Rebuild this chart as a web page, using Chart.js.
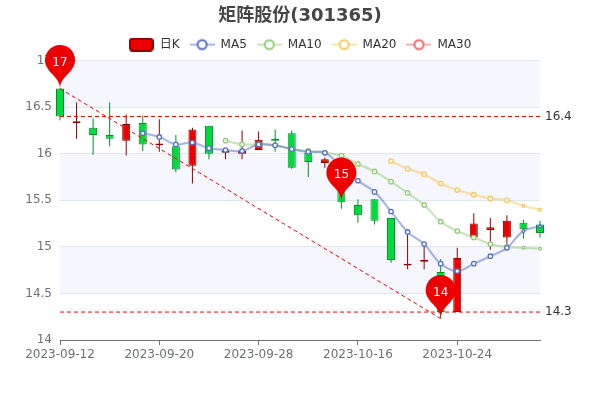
<!DOCTYPE html>
<html>
<head>
<meta charset="utf-8">
<title>矩阵股份(301365)</title>
<script src="https://cdn.jsdelivr.net/npm/chart.js@4/dist/chart.umd.min.js"></script>
<style>
  html, body { margin: 0; padding: 0; background: #fff; }
  canvas { display: block; }
</style>
</head>
<body>
<canvas id="kline" width="600" height="400"></canvas>
<script>
const dates = ['2023-09-12', '2023-09-13', '2023-09-14', '2023-09-15', '2023-09-18', '2023-09-19', '2023-09-20', '2023-09-21', '2023-09-22', '2023-09-25',
  '2023-09-26', '2023-09-27', '2023-09-28', '2023-10-09', '2023-10-10', '2023-10-11', '2023-10-12', '2023-10-13', '2023-10-16', '2023-10-17',
  '2023-10-18', '2023-10-19', '2023-10-20', '2023-10-23', '2023-10-24', '2023-10-25', '2023-10-26', '2023-10-27', '2023-10-30', '2023-10-31']

const opens = [16.7, 16.33, 16.28, 16.2, 16.14, 16.33, 16.09, 16.08, 15.87, 16.3,
  16.01, 16.0, 16.04, 16.16, 16.22, 16.01, 15.9, 15.72, 15.45, 15.51,
  15.31, 14.8, 14.84, 14.73, 14.3, 15.1, 15.18, 15.1, 15.26, 15.24]
const closes = [16.4, 16.35, 16.2, 16.16, 16.32, 16.1, 16.11, 15.83, 16.26, 16.0,
  16.03, 16.03, 16.15, 16.14, 15.85, 15.91, 15.94, 15.48, 15.34, 15.28,
  14.86, 14.82, 14.86, 14.3, 14.88, 15.25, 15.21, 15.28, 15.19, 15.15]
const lows = [16.36, 16.16, 15.99, 16.08, 15.98, 16.03, 16.02, 15.8, 15.68, 15.94,
  15.94, 15.94, 16.04, 16.02, 15.84, 15.75, 15.85, 15.41, 15.26, 15.24,
  14.83, 14.76, 14.76, 14.23, 14.3, 15.1, 14.97, 15.0, 15.09, 15.1]
const highs = [16.7, 16.55, 16.38, 16.55, 16.42, 16.41, 16.37, 16.2, 16.28, 16.3,
  16.06, 16.25, 16.24, 16.26, 16.25, 16.02, 15.96, 15.76, 15.51, 15.51,
  15.31, 15.15, 15.04, 14.87, 14.99, 15.36, 15.31, 15.34, 15.29, 15.28]

const ma5 = [null, null, null, null, null, 16.22, 16.18, 16.1, 16.12, 16.06,
  16.04, 16.03, 16.1, 16.09, 16.05, 16.02, 16.01, 15.86, 15.71, 15.59,
  15.38, 15.16, 15.03, 14.82, 14.74, 14.82, 14.9, 14.99, 15.17, 15.22]
const ma10 = [null, null, null, null, null, null, null, null, null, null,
  16.14, 16.1, 16.1, 16.09, 16.05, 16.03, 16.01, 15.98, 15.89, 15.81,
  15.7, 15.58, 15.45, 15.27, 15.17, 15.1, 15.03, 15.0, 14.99, 14.98]
const ma20 = [null, null, null, null, null, null, null, null, null, null,
  null, null, null, null, null, null, null, null, null, null,
  15.92, 15.84, 15.78, 15.68, 15.61, 15.56, 15.52, 15.5, 15.44, 15.4]

// pins and mark lines
const pinIndex = [0, 17, 23]
const pinValue = [16.7, 15.49, 14.23]
const pinText = ['17', '15', '14']
const markLevels = [16.4, 14.3]

const legendNames = ['日K', 'MA5', 'MA10', 'MA20', 'MA30']

const UP = '#ec0000'
const UP_BORDER = '#8a0000'
const DOWN = '#00da3c'
const DOWN_BORDER = '#008f28'
const LINE_COLORS = ['#5470c6', '#91cc75', '#fac858', '#ee6666']
const FONT = '"DejaVu Sans", "Noto Sans CJK SC", sans-serif'

const isUp = (i) => closes[i] >= opens[i]

function iconCanvas(draw) {
  const c = document.createElement('canvas')
  c.width = 25
  c.height = 14
  draw(c.getContext('2d'))
  return c
}

const kIcon = iconCanvas((g) => {
  g.fillStyle = UP
  g.strokeStyle = UP_BORDER
  g.lineWidth = 2
  g.beginPath()
  g.roundRect(1, 1, 23, 12, 3)
  g.fill()
  g.stroke()
})

const lineIcon = (color) => iconCanvas((g) => {
  g.strokeStyle = color
  g.globalAlpha = 0.5
  g.lineWidth = 2
  g.beginPath()
  g.moveTo(0, 7)
  g.lineTo(25, 7)
  g.stroke()
  g.globalAlpha = 1
  g.fillStyle = '#fff'
  g.lineWidth = 2
  g.beginPath()
  g.arc(12.5, 7, 4.5, 0, Math.PI * 2)
  g.fill()
  g.stroke()
})

const legendIcons = [kIcon].concat(LINE_COLORS.map(lineIcon))

function maDataset(label, values, color) {
  return {
    type: 'line',
    label: label,
    data: values,
    borderColor: color + '80',
    borderWidth: 2.2,
    tension: 0.4,
    pointBackgroundColor: '#fff',
    pointBorderColor: color,
    pointBorderWidth: 1.3,
    pointRadius: values.map((v, i) => (i >= values.length - 2 ? 1.4 : 2.2)),
    clip: false,
    order: 3
  }
}

function markDataset(values) {
  return {
    type: 'line',
    data: values,
    borderColor: '#f00000',
    borderWidth: 1,
    borderDash: [4, 3],
    pointRadius: 0,
    spanGaps: true,
    tension: 0,
    order: 2
  }
}

const levelLine = (v) => dates.map((d, i) => (i === 0 || i === dates.length - 1 ? v : null))
const trendLine = dates.map((d, i) => {
  if (i === pinIndex[0]) return pinValue[0]
  if (i === pinIndex[2]) return pinValue[2]
  return null
})

const bandsPlugin = {
  id: 'bands',
  beforeDraw(chart) {
    const { ctx, chartArea, scales } = chart
    ctx.save()
    ctx.fillStyle = '#f5f7fd'
    for (const [a, b] of [[17, 16.5], [16, 15.5], [15, 14.5]]) {
      const top = scales.y.getPixelForValue(a)
      const bottom = scales.y.getPixelForValue(b)
      ctx.fillRect(chartArea.left, top, chartArea.width, bottom - top)
    }
    ctx.restore()
  }
}

const pinsPlugin = {
  id: 'pins',
  afterDatasetsDraw(chart) {
    const { ctx, scales } = chart
    pinIndex.forEach((idx, n) => {
      const x = scales.x.getPixelForValue(idx)
      const y = scales.y.getPixelForValue(pinValue[n])
      // same outline echarts uses for its pin symbol at size 50
      const r = 15
      const dy = (r * r) / (50 - r)
      const cy = y - 50 + r + dy
      const angle = Math.asin(dy / r)
      const dx = Math.cos(angle) * r
      const tanX = Math.sin(angle)
      const tanY = Math.cos(angle)
      const cp = r * 0.6
      const cp2 = r * 0.7
      ctx.save()
      ctx.fillStyle = UP
      ctx.beginPath()
      ctx.moveTo(x - dx, cy + dy)
      ctx.arc(x, cy, r, Math.PI - angle, Math.PI * 2 + angle)
      ctx.bezierCurveTo(x + dx - tanX * cp, cy + dy + tanY * cp, x, y - cp2, x, y)
      ctx.bezierCurveTo(x, y - cp2, x - dx + tanX * cp, cy + dy + tanY * cp, x - dx, cy + dy)
      ctx.closePath()
      ctx.fill()
      ctx.fillStyle = '#fff'
      ctx.font = '12px ' + FONT
      ctx.textAlign = 'center'
      ctx.textBaseline = 'middle'
      ctx.fillText(pinText[n], x, y - 26)
      ctx.restore()
    })
  }
}

new Chart(document.getElementById('kline'), {
  data: {
    labels: dates,
    datasets: [
      {
        type: 'bar',
        data: dates.map((d, i) => [lows[i], highs[i]]),
        backgroundColor: dates.map((d, i) => (isUp(i) ? UP_BORDER : DOWN_BORDER)),
        barThickness: 1,
        grouped: false,
        inflateAmount: 0,
        clip: false,
        order: 5
      },
      {
        type: 'bar',
        data: dates.map((d, i) => [opens[i], closes[i]]),
        backgroundColor: dates.map((d, i) => (isUp(i) ? UP : DOWN)),
        borderColor: dates.map((d, i) => (isUp(i) ? UP_BORDER : DOWN_BORDER)),
        borderWidth: 1,
        borderSkipped: false,
        barThickness: 8,
        grouped: false,
        inflateAmount: 0,
        clip: false,
        order: 4
      },
      maDataset('MA5', ma5, LINE_COLORS[0]),
      maDataset('MA10', ma10, LINE_COLORS[1]),
      maDataset('MA20', ma20, LINE_COLORS[2]),
      markDataset(trendLine),
      markDataset(levelLine(markLevels[0])),
      markDataset(levelLine(markLevels[1]))
    ]
  },
  options: {
    responsive: false,
    animation: false,
    events: [],
    scales: {
      x: {
        type: 'category',
        offset: false,
        afterBuildTicks: (s) => { s.ticks = s.ticks.filter((t, i) => i % 6 === 0) },
        afterFit: (s) => { s.height = 60 },
        grid: { offset: false, drawOnChartArea: false, drawTicks: true, tickLength: 5, tickColor: '#6e7079' },
        border: { color: '#6e7079', width: 1 },
        ticks: {
          autoSkip: false,
          maxRotation: 0,
          padding: 3,
          color: '#6e7079',
          font: { family: FONT, size: 12 }
        }
      },
      y: {
        position: 'left',
        min: 14,
        max: 17,
        afterFit: (s) => { s.width = 60 },
        grid: { color: '#e0e6f1', drawTicks: false },
        border: { display: false },
        ticks: {
          stepSize: 0.5,
          padding: 8,
          color: '#6e7079',
          font: { family: FONT, size: 12 },
          callback: (v) => String(v)
        }
      },
      levels: {
        position: 'right',
        min: 14,
        max: 17,
        afterBuildTicks: (s) => { s.ticks = markLevels.map((v) => ({ value: v })) },
        afterFit: (s) => { s.width = 60 },
        grid: { display: false, drawTicks: false },
        border: { display: false },
        ticks: {
          padding: 5,
          color: '#333',
          font: { family: FONT, size: 12 },
          callback: (v) => String(v)
        }
      }
    },
    plugins: {
      tooltip: { enabled: false },
      title: {
        display: true,
        text: '矩阵股份(301365)',
        color: '#464646',
        padding: { top: 6, bottom: 1 },
        font: { family: FONT, size: 18, weight: 'bold' }
      },
      legend: {
        display: true,
        position: 'top',
        labels: {
          usePointStyle: true,
          pointStyleWidth: 25,
          boxHeight: 14,
          padding: 10,
          color: '#333',
          font: { family: FONT, size: 12 },
          generateLabels: () => legendNames.map((name, i) => ({
            text: name,
            pointStyle: legendIcons[i],
            fontColor: '#333',
            datasetIndex: i
          }))
        }
      }
    }
  },
  plugins: [bandsPlugin, pinsPlugin]
})
</script>
</body>
</html>
